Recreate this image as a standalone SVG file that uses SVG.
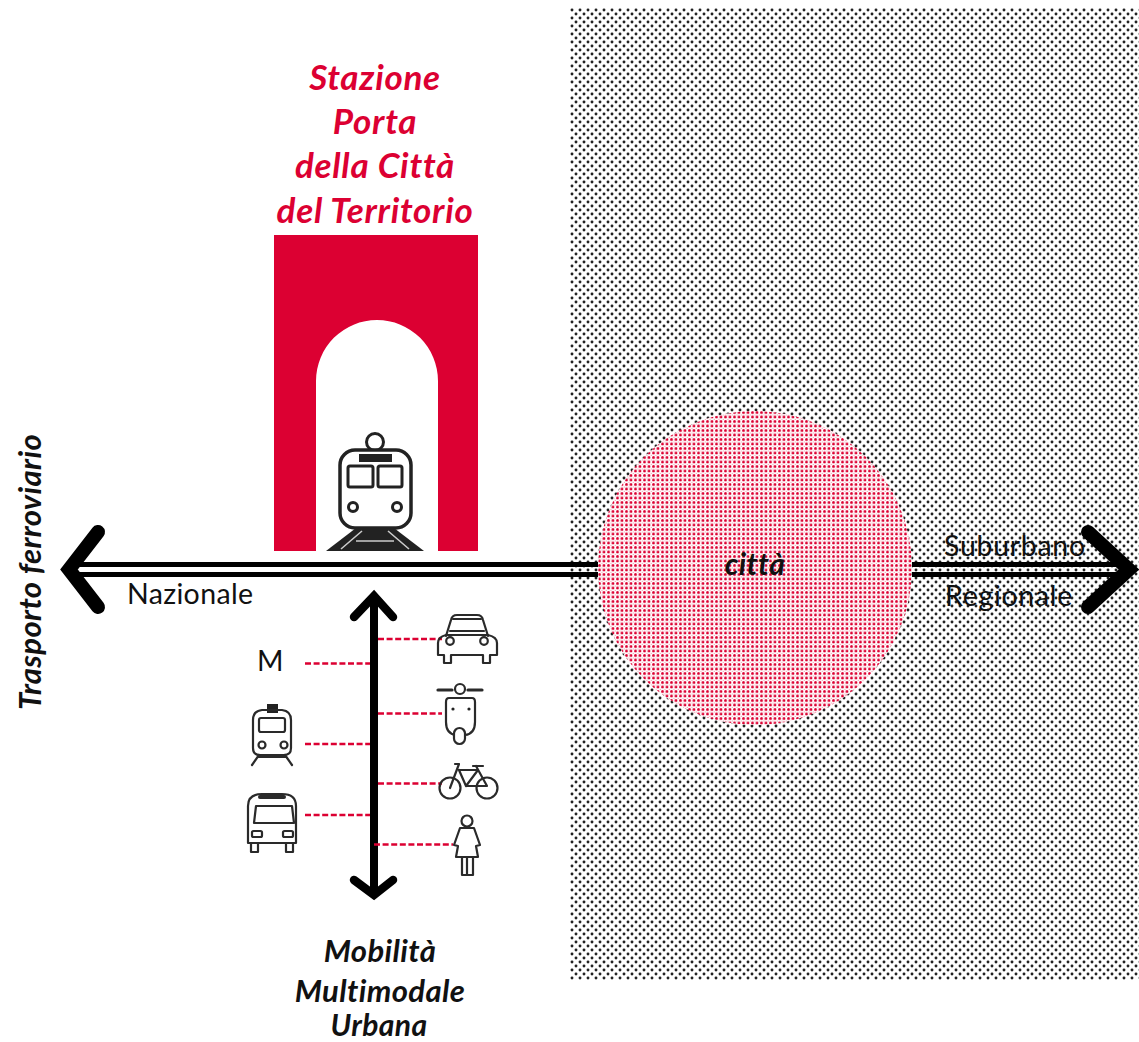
<svg xmlns="http://www.w3.org/2000/svg" width="1139" height="1042" viewBox="0 0 1139 1042">
<style>
text{font-family:"Lato","Open Sans","Liberation Sans",sans-serif;fill:#111}
.bi{font-weight:700;font-style:italic}
.red{fill:#dc0032;font-size:35px;letter-spacing:.7px}
.mob{font-size:31px;letter-spacing:.4px;text-anchor:middle}
.lab{font-size:28.5px;letter-spacing:.35px}
.wide{letter-spacing:.7px}
.ic{fill:none;stroke:#2a2a2a;stroke-width:2.2;stroke-linecap:round;stroke-linejoin:round}
.icf{fill:#222;stroke:none}
.dash{stroke:#dc0032;stroke-width:2.6;stroke-dasharray:6 2.6;fill:none}
.rail{stroke:#000;stroke-width:5;fill:none}
.head{fill:none;stroke:#000;stroke-linecap:round;stroke-linejoin:miter;stroke-miterlimit:10}
</style>
<defs>
<pattern id="dots" width="8" height="8" patternUnits="userSpaceOnUse" x="570" y="8">
<rect width="8" height="8" fill="#fff"/>
<circle cx="2" cy="2" r="1.45" fill="#222"/>
<circle cx="6" cy="6" r="1.45" fill="#222"/>
</pattern>
<pattern id="reddots" width="4.5" height="4.5" patternUnits="userSpaceOnUse" x="598" y="411">
<rect width="4.5" height="4.5" fill="#fff"/>
<circle cx="1.5" cy="1.5" r="1.45" fill="#dc0032"/>
<circle cx="3.8" cy="3.8" r=".5" fill="#e8587a"/>
</pattern>
</defs>
<g id="city-field"><rect x="570" y="8" width="569" height="972" fill="url(#dots)"/></g>
<g id="city-circle"><circle cx="755" cy="568" r="157" fill="url(#reddots)"/><text x="755" y="575" text-anchor="middle" class="bi" font-size="30" letter-spacing=".5">città</text></g>
<g id="station">
<path d="M274 235H478V551H438V381A61 61 0 0 0 316 381V551H274Z" fill="#dc0032"/>
<text class="bi red" x="375" y="90" text-anchor="middle">Stazione</text>
<text class="bi red" x="375" y="134" text-anchor="middle">Porta</text>
<text class="bi red" x="375" y="178" text-anchor="middle">della Città</text>
<text class="bi red" x="375" y="223" text-anchor="middle">del Territorio</text>
</g>
<g id="train">
<circle cx="375" cy="442" r="8.5" fill="#fff" stroke="#222" stroke-width="3"/>
<rect x="340" y="450" width="71" height="78" rx="15" fill="#fff" stroke="#222" stroke-width="3.5"/>
<rect x="359" y="454" width="33" height="8" class="icf"/>
<rect x="348" y="466" width="25" height="21" rx="2" fill="#fff" stroke="#222" stroke-width="3"/>
<rect x="378" y="466" width="24" height="21" rx="2" fill="#fff" stroke="#222" stroke-width="3"/>
<circle cx="353" cy="507" r="4.5" fill="#fff" stroke="#222" stroke-width="3"/>
<circle cx="397" cy="507" r="4.5" fill="#fff" stroke="#222" stroke-width="3"/>
<path d="M356 528H394L424 551H326Z" class="icf"/>
<path d="M362 531L341 549M388 531L409 549M356 541H394" fill="none" stroke="#ccc" stroke-width="1.6"/>
</g>
<g id="connectors">
<path class="rail" d="M72 564.5H598M72 574.5H598M912 564.5H1128M912 574.5H1128"/>
<path class="head" stroke-width="14" d="M98 532L69 569.5L98 607"/>
<path class="head" stroke-width="14" d="M1088 532L1129 569.5L1088 607"/>
<path d="M374 596V894" stroke="#000" stroke-width="8" fill="none"/>
<path class="head" stroke-width="8.5" d="M354 617L374 596L393 617"/>
<path class="head" stroke-width="8.5" d="M354 880L374 895L393 880"/>
<path class="dash" d="M378 639H442M305 663.5H370M378 713.5H442M305 744H370M378 783.5H442M305 815H370M374 844.5H453"/>
</g>
<g id="label-nazionale"><text class="lab" x="127" y="604">Nazionale</text></g>
<g id="label-suburbano"><text class="lab wide" x="944" y="556">Suburbano</text></g>
<g id="label-regionale"><text class="lab wide" x="945" y="606">Regionale</text></g>
<g id="label-trasporto"><text class="bi" font-size="31" letter-spacing=".4" text-anchor="middle" transform="translate(41 572) rotate(-90)">Trasporto ferroviario</text></g>
<g id="label-mobilita">
<text class="bi mob" x="380" y="962">Mobilità</text>
<text class="bi mob" x="380" y="1002">Multimodale</text>
<text class="bi mob" x="379" y="1036" style="font-size:30px">Urbana</text>
</g>
<g id="metro-m"><text class="lab" x="257" y="671">M</text></g>
<g id="icon-car" class="ic">
<path d="M446 636L451 620Q452 615 457 615H477Q482 615 483 620L488 636"/>
<path d="M450 631H484M453 619H481"/>
<path d="M446 635Q438 637 438 643V655H444V663H451V655H483V663H490V655H497V643Q497 637 488 635Z"/>
<circle cx="450" cy="641" r="3.8"/><circle cx="484" cy="641" r="3.8"/>
</g>
<g id="icon-scooter" class="ic">
<path d="M438 690H452M468 690H482" stroke-width="3.2"/>
<circle cx="460" cy="689" r="5"/>
<path d="M449 698H472Q475 698 475 702V722Q475 734 465 735H456Q446 734 446 722V702Q446 698 449 698Z"/>
<rect x="454" y="728" width="11" height="16" rx="5.5" fill="#fff"/>
<circle class="icf" cx="453" cy="709" r="1.6"/><circle class="icf" cx="469" cy="709" r="1.6"/>
</g>
<g id="icon-metro" class="ic">
<rect class="icf" x="267" y="704" width="11" height="9"/>
<path d="M253 720Q253 711 262 710H282Q291 711 291 720V748Q291 755 284 755H260Q253 755 253 748Z"/>
<rect x="259" y="718" width="26" height="14" rx="2"/>
<circle cx="262" cy="745" r="3.5"/><circle cx="284" cy="745" r="3.5"/>
<path d="M259 755L252 765M285 755L292 765M258 757H286"/>
</g>
<g id="icon-bus" class="ic">
<path d="M248 806Q248 794 262 794H282Q296 794 296 806V843H248Z"/>
<path d="M256 806H292L294 823H254Z"/>
<path d="M260 797H284" stroke-width="4"/>
<rect x="252" y="831" width="10" height="6" rx="1.5"/><rect x="283" y="831" width="10" height="6" rx="1.5"/>
<path d="M251 843V852H258V843M286 843V852H293V843"/>
</g>
<g id="icon-bike" class="ic">
<circle cx="450" cy="788" r="10.5"/><circle cx="487" cy="788" r="10.5"/>
<path d="M450 788L459 764H455M459 770H478L466 786L459 770M466 786H487L476 766M473 766H483"/>
</g>
<g id="icon-person" class="ic">
<circle cx="467" cy="821" r="5.5"/>
<path d="M460 828H474L480 845L476 846L478 857H456L458 846L454 845Z"/>
<path d="M462 857V875H467V857M467 875H473V857"/>
</g>
</svg>
